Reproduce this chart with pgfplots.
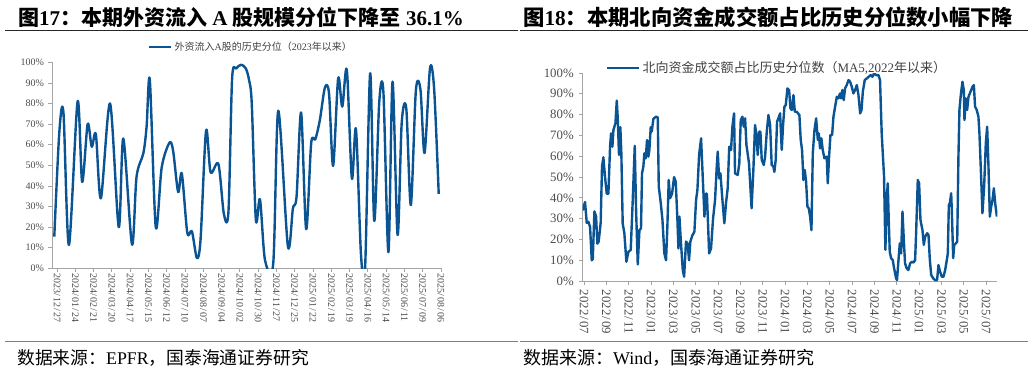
\documentclass[border=0pt]{standalone}
\usepackage{fontspec}
\setmainfont{Liberation Serif}
\newfontfamily\cjk{Noto Sans CJK SC}
\usepackage{pgfplots}
\pgfplotsset{compat=1.18}
\definecolor{lc}{RGB}{10,84,148}
\definecolor{axc}{RGB}{165,165,165}
\newcommand{\C}[1]{{\cjk #1}}
\newcommand{\ds}{\kern0.09em/\kern0.09em}

\pgfplotstableread{
x y
-0.6 15.4
0.5 66
1.4 75.6
2.6 11.3
4.5 81
5.5 42
6.7 70
7.6 59
8.5 65
9.6 34
11.6 80
13.5 20
14.5 63
16.4 11.6
17.4 44.5
18.9 56
19.6 69
20.3 91.4
21.6 20
22.9 49
24.6 61
25.4 57
26.5 37
27.3 46
28.5 17.3
29.5 18
30.6 5
31.4 14
32.6 66.8
33.6 46.6
35.3 50.6
36.5 26.4
37.5 27.5
38.3 92
39.2 97
40.3 98.8
41.3 97
42.0 91.5
42.6 80
43.5 23.5
44.4 33.5
45.5 4
47.3 2.4
48.4 76.5
50.5 10.8
51.6 29
52.4 34.8
53.4 75.6
54.5 19
55.6 60.7
56.5 62.6
57.5 72
58.6 87.7
59.5 85
60.4 49.7
61.5 92.2
62.4 78.5
63.4 96.3
64.5 43.7
65.4 67.5
66.5 6.5
67.4 0.5
68.5 94.7
69.4 23
70.5 81
71.4 85.4
72.5 7.8
73.4 90.6
74.5 16.2
75.4 70.4
76.4 77.7
77.4 30.7
78.5 86.2
79.5 86.9
80.4 56
81.6 97.2
82.5 87
83.5 36.1
}\leftdata

\pgfplotstableread{
x y
-0.12 34
0.09 38
0.24 28
0.39 28.5
0.54 26
0.69 10
0.78 10.5
0.93 33.5
1.08 31
1.19 18
1.31 19
1.49 28
1.61 55
1.73 59.5
1.88 50
2.03 42
2.18 42
2.33 64.6
2.42 71
2.54 64.6
2.63 72.6
2.81 75.8
2.93 86.7
3.02 78
3.13 60.6
3.25 74
3.34 61.4
3.46 27.8
3.61 23
3.79 9.3
3.97 14
4.18 15
4.36 39
4.54 65
4.66 34
4.81 8
4.96 24.5
5.10 25.3
5.19 51.8
5.31 55
5.40 61.4
5.52 59
5.64 67.8
5.76 59.8
5.85 63
5.97 74
6.06 71.8
6.21 78
6.45 79
6.60 78.7
6.69 45.4
6.87 37.4
7.02 29.4
7.19 13.3
7.34 10
7.46 26
7.58 48.6
7.70 39.8
7.88 42
8.06 50
8.21 47.8
8.36 29.4
8.45 15.7
8.54 31
8.66 19.7
8.84 5.3
8.96 2.1
9.13 19
9.28 18
9.40 10
9.52 19
9.70 22
9.88 23.7
10.03 39
10.15 43.8
10.30 60.6
10.48 68.6
10.60 53.4
10.78 31
10.90 42
11.00 42
11.20 13.3
11.37 15.7
11.55 30
11.73 39
11.88 55
11.97 62.2
12.09 49.4
12.21 51.8
12.39 39
12.56 27.8
12.71 37.4
12.86 44.6
13.00 64.6
13.16 63
13.28 74
13.43 80.6
13.52 51.8
13.76 51
13.90 56.6
14.03 77.4
14.18 79
14.30 74.2
14.42 78.2
14.54 65.4
14.77 56.6
15.00 35
15.16 53.4
15.31 75
15.43 70.2
15.55 60.6
15.67 71.8
15.79 71.8
15.91 58.2
16.09 55.8
16.21 59.8
16.36 71.8
16.51 79.8
16.66 75
16.80 55.8
16.95 55
17.04 52.5
17.16 58.2
17.28 76.6
17.40 78.2
17.55 80.6
17.70 63
17.82 75
17.94 83.8
18.06 84.6
18.21 92.6
18.36 91.8
18.48 83
18.60 82.2
18.75 89.4
18.87 81.4
19.04 81.4
19.28 79.8
19.40 67.8
19.52 63
19.64 48.6
19.76 53.4
19.88 47.8
20.00 35.8
20.12 35
20.24 31
20.36 24.5
20.48 61.4
20.63 72.6
20.78 78.2
20.93 67.8
21.02 71
21.13 63.8
21.25 68.6
21.37 63
21.52 59
21.73 59.8
21.82 47
21.94 59.8
22.06 70.2
22.21 70.2
22.33 79
22.48 83.8
22.63 88.6
22.77 87.8
22.92 90.2
23.01 87.8
23.13 91.8
23.25 87
23.37 92.6
23.52 94.2
23.67 96.6
23.82 95.8
23.97 93.4
24.12 90.2
24.27 91.8
24.42 94.2
24.57 89.4
24.72 80.6
24.84 82.2
24.96 91
25.13 96.6
25.31 97.4
25.49 98.2
25.67 99
25.82 98.2
25.97 99.8
26.15 99
26.36 99
26.50 96.6
26.65 71
26.86 50.2
26.98 15
27.10 39
27.19 47
27.28 29.4
27.37 14.1
27.49 11
27.64 10.1
27.76 6.1
27.94 1.3
28.02 0.5
28.15 10
28.27 18.1
28.39 13.3
28.51 33.4
28.63 19.7
28.74 8.5
28.89 6.1
29.04 5.3
29.19 8.5
29.34 9.3
29.49 8.9
29.64 10.1
29.73 23
29.88 48.6
30.00 47
30.12 29.4
30.30 24.5
30.42 17.4
30.54 21.4
30.72 23
30.84 22.2
30.96 10.1
31.08 3
31.26 1.3
31.43 0.5
31.61 0.5
31.73 7.7
31.88 4.5
32.03 2.1
32.18 2.1
32.33 5.3
32.48 10.1
32.57 13.3
32.66 36.6
32.75 37.4
32.87 42.2
32.93 33.4
33.05 11
33.14 17.4
33.29 18.1
33.41 19
33.52 59.8
33.61 82.2
33.73 89.4
33.88 95.8
34.00 91.8
34.06 77.4
34.18 87.8
34.30 82.2
34.42 88.6
34.60 91
34.78 93.4
34.90 94.2
35.01 83.8
35.16 82.2
35.31 79
35.40 71
35.55 50.2
35.67 32.6
35.82 45.4
35.97 66.2
36.09 74.2
36.21 55
36.33 31
36.45 35.8
36.57 39
36.69 44.6
36.81 37.4
36.96 31
}\rightdata

\begin{document}
\begin{tikzpicture}[x=1pt,y=1pt]
\useasboundingbox (0,0) rectangle (1034,373);
% titles
\node[anchor=west, inner sep=0pt, font=\fontsize{21}{21}\selectfont\bfseries] at (18,356) {\C{图}17\C{：本期外资流入} A \C{股规模分位下降至} 36.1\%};
\node[anchor=west, inner sep=0pt, font=\fontsize{21.3}{21.3}\selectfont\bfseries] at (523,356) {\C{图}18\C{：本期北向资金成交额占比历史分位数小幅下降}};
\draw[line width=1.2pt, black!85] (5,342.5) -- (518,342.5);
\draw[line width=1.2pt, black!85] (520,342.5) -- (1028,342.5);
\draw[line width=1.3pt, black!50] (5,31.3) -- (518,31.3);
\draw[line width=1.3pt, black!50] (520,31.3) -- (1028,31.3);
\node[anchor=west, inner sep=0pt, font=\fontsize{17.8}{17.8}\selectfont] at (17,15) {\C{数据来源：}EPFR\C{，国泰海通证券研究}};
\node[anchor=west, inner sep=0pt, font=\fontsize{18}{18}\selectfont] at (523,15) {\C{数据来源：}Wind\C{，国泰海通证券研究}};

\begin{axis}[
  at={(52pt,104.7pt)}, anchor=south west, scale only axis,
  width=389pt, height=206pt,
  xmin=-1.1, xmax=84, ymin=0, ymax=100,
  axis x line*=bottom, axis y line*=left,
  axis line style={axc, line width=0.8pt, -},
  tick align=outside, major tick length=3.5pt,
  tick style={axc, line width=0.8pt},
  ytick={0,10,...,100},
  yticklabel={\pgfmathprintnumber{\tick}\%},
  /pgf/number format/assume math mode=true,
  yticklabel style={font=\fontsize{10}{10}\selectfont, text=black!70, xshift=-1pt},
  xtick={0,4,...,84},
  xticklabels={2023\ds12\ds27,2024\ds01\ds24,2024\ds02\ds21,2024\ds03\ds20,2024\ds04\ds17,2024\ds05\ds15,2024\ds06\ds12,2024\ds07\ds10,2024\ds08\ds07,2024\ds09\ds04,2024\ds10\ds02,2024\ds10\ds30,2024\ds11\ds27,2024\ds12\ds25,2025\ds01\ds22,2025\ds02\ds19,2025\ds03\ds19,2025\ds04\ds16,2025\ds05\ds14,2025\ds06\ds11,2025\ds07\ds09,2025\ds08\ds06},
  xticklabel style={rotate=-90, anchor=west, font=\fontsize{10}{10}\selectfont, text=black!70, inner sep=1pt},
  legend style={at={(axis description cs:0.247,1.074)}, anchor=west, draw=none, fill=none, inner sep=0pt, font=\fontsize{10}{10}\selectfont, text=black!75},
  legend image code/.code={\draw[#1] (0pt,0pt) -- (22pt,0pt);},
]
\addplot[lc, line width=2.4pt, smooth, tension=0.5, line join=round] table[x=x,y=y] {\leftdata};
\addlegendentry{\C{外资流入}A\C{股的历史分位（}2023\C{年以来）}}
\end{axis}

\begin{axis}[
  at={(582.7pt,91.9pt)}, anchor=south west, scale only axis,
  width=414.6pt, height=208.1pt,
  xmin=-0.12, xmax=37.0, ymin=0, ymax=100,
  axis x line*=bottom, axis y line*=left,
  axis line style={axc, line width=0.8pt, -},
  tick align=outside, major tick length=3.5pt,
  tick style={axc, line width=0.8pt},
  ytick={0,10,...,100},
  yticklabel={\pgfmathprintnumber{\tick}\%},
  /pgf/number format/assume math mode=true,
  yticklabel style={font=\fontsize{12.8}{12.8}\selectfont, text=black!70, xshift=-2pt},
  xtick={0,2,...,36},
  xticklabels={2022\ds07,2022\ds09,2022\ds11,2023\ds01,2023\ds03,2023\ds05,2023\ds07,2023\ds09,2023\ds11,2024\ds01,2024\ds03,2024\ds05,2024\ds07,2024\ds09,2024\ds11,2025\ds01,2025\ds03,2025\ds05,2025\ds07},
  xticklabel style={rotate=-90, anchor=west, font=\fontsize{12.8}{12.8}\selectfont, text=black!70, inner sep=1pt, xshift=4pt},
  legend style={at={(axis description cs:0.056,1.024)}, anchor=west, draw=none, fill=none, inner sep=0pt, font=\fontsize{13}{13}\selectfont, text=black!75},
  legend image code/.code={\draw[#1] (0pt,0pt) -- (32pt,0pt);},
]
\addplot[lc, line width=2.4pt, line join=round] table[x=x,y=y] {\rightdata};
\addlegendentry{\C{北向资金成交额占比历史分位数（}MA5,2022\C{年以来）}}
\end{axis}
\end{tikzpicture}
\end{document}
